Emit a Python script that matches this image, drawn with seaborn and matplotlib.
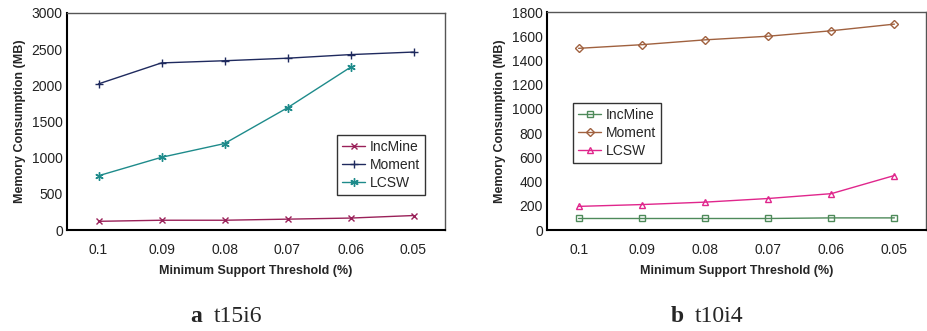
import numpy as np
import pandas as pd
import matplotlib
matplotlib.use("Agg")
import matplotlib.pyplot as plt
import seaborn as sns

sns.set_style("white")
plt.rcParams["font.family"] = ["Liberation Sans", "DejaVu Sans"]

# data
thresholds = ["0.1", "0.09", "0.08", "0.07", "0.06", "0.05"]

t15i6_incmine = [120, 135, 135, 150, 165, 200]
t15i6_moment = [2020, 2310, 2340, 2375, 2425, 2460]
t15i6_lcsw = [750, 1005, 1195, 1690, 2250, np.nan]

t10i4_incmine = [95, 95, 95, 95, 100, 100]
t10i4_moment = [1500, 1530, 1570, 1600, 1645, 1700]
t10i4_lcsw = [195, 210, 230, 260, 300, 450]

fig = plt.figure(figsize=(9.27, 3.31), dpi=100)
ax1 = fig.add_axes([67 / 927, 1 - 230 / 331, 378 / 927, 217 / 331])
ax2 = fig.add_axes([547 / 927, 1 - 230 / 331, 379 / 927, 218 / 331])

pos = np.arange(len(thresholds))


def draw(ax, series, ylim, ystep, legend_box):
    """Excel-style line chart with categorical x axis."""
    for name, vals, color, marker, ms, mfc in series:
        df = pd.DataFrame({"x": pos, "y": vals}).dropna()
        sns.lineplot(data=df, x="x", y="y", ax=ax, color=color, marker=marker,
                     markersize=ms, markerfacecolor=mfc, markeredgecolor=color,
                     markeredgewidth=1.0, linewidth=1.0, label=name)
    ax.set_xlim(-0.5, len(thresholds) - 0.5)
    ax.set_ylim(*ylim)
    ax.set_yticks(np.arange(ylim[0], ylim[1] + 1, ystep))
    ax.set_xticks(pos)
    ax.set_xticklabels(thresholds)
    ax.set_xticks(pos[:-1] + 0.5, minor=True)
    ax.tick_params(axis="x", which="major", length=0, pad=9, labelsize=10, colors="#222222")
    ax.tick_params(axis="x", which="minor", direction="in", length=4, width=1, color="black")
    ax.tick_params(axis="y", length=0, pad=3, labelsize=10, colors="#222222")
    ax.set_xlabel("Minimum Support Threshold (%)", fontsize=9, fontweight="bold", labelpad=6)
    ax.set_ylabel("Memory Consumption (MB)", fontsize=9, fontweight="bold", labelpad=4)
    for s in ["left", "bottom"]:
        ax.spines[s].set_color("black")
        ax.spines[s].set_linewidth(1.5)
    for s in ["top", "right"]:
        ax.spines[s].set_color("#555555")
        ax.spines[s].set_linewidth(1.0)
    leg = ax.legend(loc="upper left", bbox_to_anchor=legend_box, frameon=True,
                    fancybox=False, edgecolor="black", fontsize=10,
                    handlelength=1.7, handletextpad=0.3, borderpad=0.35,
                    labelspacing=0.3, borderaxespad=0)
    leg.get_frame().set_linewidth(1.0)


draw(ax1, [
    ("IncMine", t15i6_incmine, "#9A2159", "x", 5, "none"),
    ("Moment", t15i6_moment, "#1F2A5E", "+", 6, "none"),
    ("LCSW", t15i6_lcsw, "#1E8B8B", (6, 2, 0), 6, "#1E8B8B"),
], (0, 3000), 500, ((337 - 67) / 378, (230 - 135) / 217))

draw(ax2, [
    ("IncMine", t10i4_incmine, "#4E8A5A", "s", 5, "none"),
    ("Moment", t10i4_moment, "#A0613F", "D", 4, "none"),
    ("LCSW", t10i4_lcsw, "#E0268C", "^", 5, "none"),
], (0, 1800), 200, ((573 - 547) / 379, (230 - 103) / 218))

# panel captions: bold letter + name in a Times-like serif
for letter, name, xl in [("a", "t15i6", 190), ("b", "t10i4", 671)]:
    fig.text(xl / 927, 1 - 317 / 331, letter, family="Liberation Serif",
             fontweight="bold", fontsize=17, ha="left", va="center")
    fig.text((xl + 24) / 927, 1 - 317 / 331, name, family="Liberation Serif",
             fontsize=17, ha="left", va="center")

fig.savefig("out.png", dpi=100)
